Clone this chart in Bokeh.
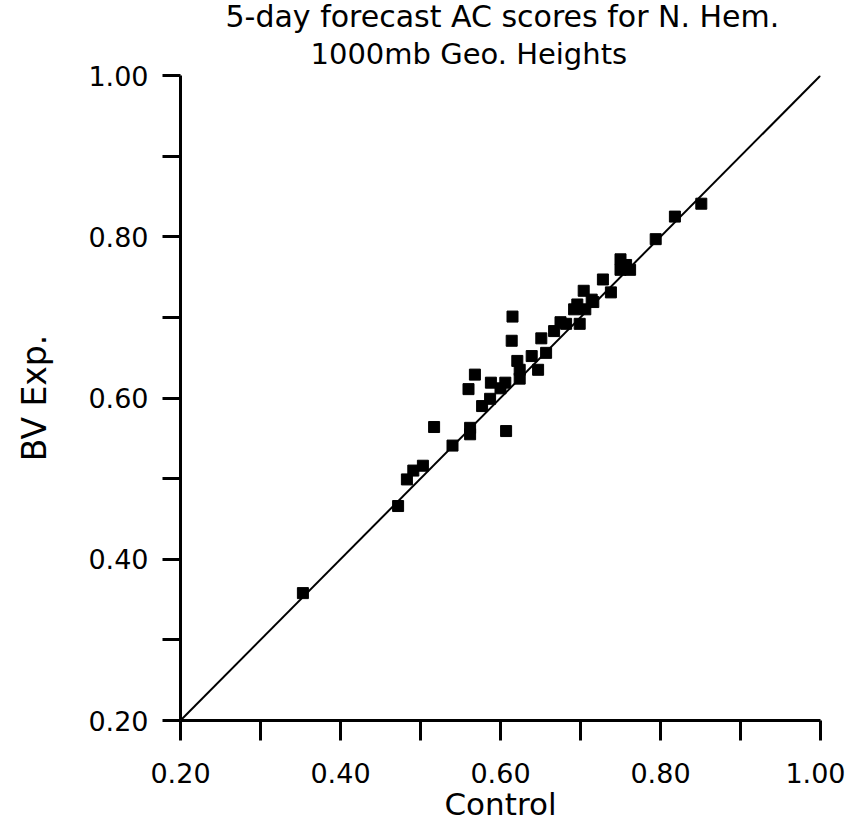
from bokeh.plotting import figure
from bokeh.models import Range1d, Title, FixedTicker
from bokeh.embed import file_html
from bokeh.resources import INLINE

control = [0.353, 0.472, 0.483, 0.491, 0.503, 0.517, 0.540, 0.562, 0.562, 0.560,
           0.568, 0.577, 0.587, 0.588, 0.600, 0.606, 0.607, 0.614, 0.615, 0.621,
           0.624, 0.624, 0.639, 0.647, 0.651, 0.657, 0.667, 0.675, 0.682, 0.692,
           0.696, 0.699, 0.704, 0.706, 0.716, 0.714, 0.728, 0.738, 0.750, 0.750,
           0.757, 0.762, 0.794, 0.818, 0.851]
bv_exp = [0.358, 0.466, 0.499, 0.510, 0.516, 0.564, 0.541, 0.563, 0.555, 0.611,
          0.629, 0.590, 0.599, 0.619, 0.612, 0.619, 0.559, 0.671, 0.701, 0.646,
          0.624, 0.635, 0.652, 0.635, 0.674, 0.656, 0.683, 0.694, 0.692, 0.710,
          0.716, 0.692, 0.733, 0.710, 0.719, 0.722, 0.747, 0.731, 0.772, 0.759,
          0.765, 0.759, 0.797, 0.825, 0.841]
diag = [0.2, 1.0]
ticks = [0.2, 0.3, 0.4, 0.5, 0.6, 0.7, 0.8, 0.9, 1.0]
tick_labels = {0.2: "0.20", 0.3: "", 0.4: "0.40", 0.5: "", 0.6: "0.60",
               0.7: "", 0.8: "0.80", 0.9: "", 1.0: "1.00"}

FONT = "DejaVu Sans"

p = figure(width=845, height=824, output_backend="svg", toolbar_location=None,
           x_range=Range1d(0.2, 1.0), y_range=Range1d(0.2, 1.0), title=None)
p.min_border_left = 180
p.min_border_right = 25
p.min_border_top = 75
p.min_border_bottom = 104
p.outline_line_color = None
p.background_fill_color = "white"
p.border_fill_color = "white"
p.grid.visible = False

t2 = Title(text="1000mb Geo. Heights", align="left", offset=130,
           text_font=FONT, text_font_size="29px", text_font_style="normal",
           text_color="black", standoff=10)
t1 = Title(text="5-day forecast AC scores for N. Hem.", align="left", offset=45,
           text_font=FONT, text_font_size="30px", text_font_style="normal",
           text_color="black", standoff=-8)
p.add_layout(t2, "above")
p.add_layout(t1, "above")

for ax in (p.xaxis[0], p.yaxis[0]):
    ax.ticker = FixedTicker(ticks=ticks)
    ax.major_label_overrides = tick_labels
    ax.minor_tick_line_color = None
    ax.axis_line_width = 3
    ax.major_tick_line_width = 3
    ax.major_tick_in = 0
    ax.major_tick_out = 20
    ax.major_label_text_font = FONT
    ax.major_label_text_font_size = "27px"
    ax.major_label_text_color = "black"
    ax.axis_label_text_font = FONT
    ax.axis_label_text_font_size = "31px"
    ax.axis_label_text_font_style = "normal"
    ax.axis_label_text_color = "black"

p.xaxis.axis_label = "Control"
p.xaxis.major_label_standoff = 22
p.xaxis.axis_label_standoff = 0
p.yaxis.axis_label = "BV Exp."
p.yaxis.axis_label_text_font_size = "33px"
p.yaxis.major_label_standoff = 14
p.yaxis.axis_label_standoff = 31
p.yaxis.major_tick_out = 18

p.line(diag, diag, line_color="black", line_width=2)
p.scatter(control, bv_exp, marker="square", size=11, fill_color="black",
          line_color="black")

open("out.html", "w").write(file_html(p, INLINE))
